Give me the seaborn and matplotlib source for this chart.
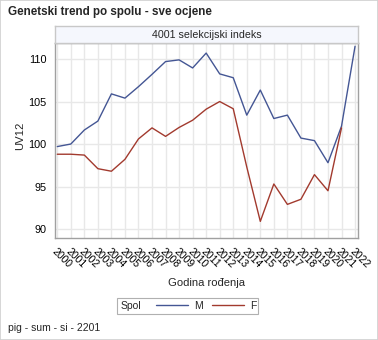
import matplotlib
matplotlib.use("Agg")
import matplotlib.pyplot as plt
from matplotlib.lines import Line2D
from matplotlib.patches import Rectangle
import seaborn as sns
import pandas as pd

years = list(range(2000, 2023))
m_values = [99.7, 100.0, 101.65, 102.7, 105.9, 105.4, 106.75, 108.2, 109.7, 109.9,
            108.95, 110.7, 108.25, 107.8, 103.4, 106.35, 103.0, 103.4, 100.7, 100.4,
            97.8, 102.1, 111.5]
f_years = list(range(2000, 2022))
f_values = [98.8, 98.8, 98.7, 97.1, 96.8, 98.2, 100.6, 101.9, 100.9, 101.95,
            102.8, 104.1, 105.0, 104.15, 97.3, 90.9, 95.3, 92.9, 93.5, 96.4,
            94.5, 101.9]
sex_labels = ["M", "F"]
y_ticks = [90, 95, 100, 105, 110]

title = "Genetski trend po spolu - sve ocjene"
panel = "4001 selekcijski indeks"
ylabel = "UV12"
xlabel = "Godina rođenja"
legend_title = "Spol"
footnote = "pig - sum - si - 2201"

colors = {"M": "#445694", "F": "#A23A2E"}

df = pd.concat([
    pd.DataFrame({"Godina": years, "UV12": m_values, "Spol": "M"}),
    pd.DataFrame({"Godina": f_years, "UV12": f_values, "Spol": "F"}),
], ignore_index=True)

sns.set_style("white")
plt.rcParams["font.family"] = ["Liberation Sans", "DejaVu Sans"]

W, H = 378, 340
fig = plt.figure(figsize=(W / 100, H / 100), dpi=100)

def fx(px):
    return px / W

def fy(py):
    return 1 - py / H

ax_l, ax_r, ax_t, ax_b = 54.7, 358.3, 43.3, 237.7
ax = fig.add_axes([fx(ax_l), fy(ax_b), fx(ax_r - ax_l), (ax_b - ax_t) / H])

sns.lineplot(data=df, x="Godina", y="UV12", hue="Spol", hue_order=sex_labels,
             palette=colors, estimator=None, lw=1.0, ax=ax, legend=False, zorder=3)

ax.set_xlim(1999.81, 2022.24)
ax.set_ylim(88.98, 111.85)
ax.set_xticks(years)
ax.set_xticklabels([str(y) for y in years], rotation=-45, ha="left", va="top",
                   rotation_mode="anchor", fontsize=7.5)
ax.set_yticks(y_ticks)
ax.set_yticklabels([str(v) for v in y_ticks], fontsize=7.8)
ax.grid(True, color="#e8e8e8", lw=1.0, zorder=0)
ax.set_axisbelow(True)
for s in ax.spines.values():
    s.set_color("#a0a0a0")
    s.set_linewidth(1.0)
ax.tick_params(axis="both", direction="out", length=4, width=0.8, color="#a0a0a0",
               pad=2, labelcolor="black")
ax.set_xlabel("")
ax.set_ylabel("")

# panel header
hdr = fig.add_axes([fx(ax_l), fy(ax_t), fx(ax_r - ax_l), (ax_t - 26) / H])
hdr.set_facecolor("#f5f7fd")
hdr.set_xticks([])
hdr.set_yticks([])
for s in hdr.spines.values():
    s.set_color("#c8c8c8")
    s.set_linewidth(1.0)
hdr.text(0.5, 0.5, panel, ha="center", va="center", fontsize=7.7, transform=hdr.transAxes)

fig.text(fx(8), fy(12), title, ha="left", va="center", fontsize=8.4, fontweight="bold")
fig.text(fx(20.5), fy(136), ylabel, ha="center", va="center", rotation=90, fontsize=8.1)
fig.text(fx(206.5), fy(283), xlabel, ha="center", va="center", fontsize=8.1)
fig.text(fx(8), fy(328), footnote, ha="left", va="center", fontsize=7.5)

# legend box
fig.patches.append(Rectangle((fx(117), fy(314)), fx(258 - 117), (314 - 298) / H,
                             transform=fig.transFigure, facecolor="white",
                             edgecolor="#b0b0b0", lw=0.8))
fig.text(fx(121), fy(306), legend_title, ha="left", va="center", fontsize=7.5)
handles = [Line2D([], [], color=colors[k], lw=1.0) for k in sex_labels]
fig.legend(handles, sex_labels, loc="center left", bbox_to_anchor=(fx(156), fy(306)),
           ncol=2, frameon=False, fontsize=7.5, handlelength=3.1, handletextpad=0.6,
           columnspacing=0.8, borderpad=0, borderaxespad=0)

# outer border
fig.patches.append(Rectangle((0, 0), 1, 1, transform=fig.transFigure, fill=False,
                             edgecolor="#d0d0d0", lw=1.2))

fig.savefig("out.png", dpi=100)
